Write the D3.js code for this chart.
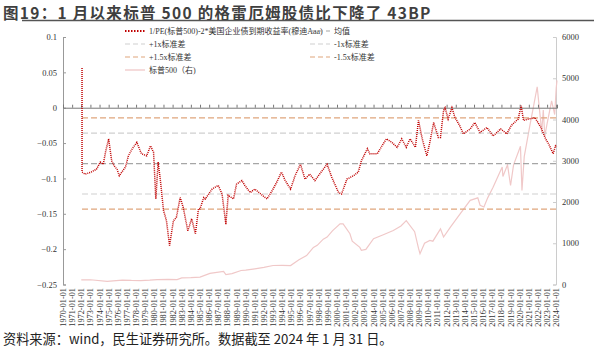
<!DOCTYPE html>
<html>
<head>
<meta charset="utf-8">
<script src="https://cdn.jsdelivr.net/npm/d3@7"></script>
<style>
  body { margin: 0; background: #fff; }
  text { font-family: "Liberation Serif", "Noto Sans CJK SC", serif; }
</style>
</head>
<body>
<script>
// graham ratio: 1/PE - 2*Aaa yield (decimal years)
const gYears = [1972.05,1972.1,1972.4,1973.1,1973.7,1974.05,1974.4,1974.7,1974.96,1975.3,1975.6,1975.9,1976.2,1976.8,1977.15,1977.6,1978.1,1978.6,1979.2,1979.6,1979.9,1980.2,1980.4,1980.7,1981.0,1981.35,1981.7,1982.1,1982.45,1982.8,1983.2,1983.7,1984.1,1984.5,1984.8,1985.0,1985.4,1985.55,1986.3,1987.0,1987.4,1987.8,1988.1,1988.65,1989.0,1989.6,1989.9,1990.5,1991.0,1991.8,1992.3,1992.9,1993.4,1993.9,1994.3,1994.9,1995.4,1996.0,1996.5,1997.0,1997.6,1998.1,1998.5,1998.9,1999.4,2000.15,2000.5,2001.1,2001.8,2002.3,2002.7,2003.3,2003.6,2004.4,2004.9,2005.45,2006.0,2006.55,2007.1,2007.6,2008.0,2008.55,2008.9,2009.3,2009.8,2010.2,2010.6,2011.1,2011.3,2011.65,2011.85,2012.2,2012.55,2012.9,2013.4,2013.85,2014.55,2015.1,2015.65,2016.4,2017.1,2017.9,2018.6,2019.1,2019.8,2020.2,2020.45,2021.0,2021.7,2022.3,2022.8,2023.2,2023.7,2023.9,2024.08];
const gVals = [0.056,-0.091,-0.094,-0.091,-0.087,-0.077,-0.080,-0.062,-0.044,-0.075,-0.082,-0.087,-0.096,-0.084,-0.068,-0.058,-0.049,-0.065,-0.068,-0.054,-0.063,-0.129,-0.077,-0.103,-0.145,-0.160,-0.195,-0.160,-0.155,-0.127,-0.141,-0.174,-0.157,-0.178,-0.143,-0.143,-0.127,-0.129,-0.115,-0.110,-0.122,-0.165,-0.124,-0.129,-0.108,-0.103,-0.110,-0.120,-0.115,-0.124,-0.129,-0.117,-0.105,-0.091,-0.103,-0.115,-0.096,-0.080,-0.101,-0.094,-0.103,-0.094,-0.087,-0.080,-0.098,-0.120,-0.122,-0.101,-0.096,-0.091,-0.075,-0.058,-0.065,-0.065,-0.054,-0.044,-0.049,-0.056,-0.044,-0.056,-0.044,-0.056,-0.018,-0.044,-0.068,-0.049,-0.021,-0.042,-0.042,-0.004,0.0,-0.016,0.0,-0.014,-0.025,-0.037,-0.030,-0.021,-0.035,-0.028,-0.040,-0.030,-0.037,-0.025,-0.016,0.003,-0.018,-0.016,-0.014,-0.028,-0.044,-0.051,-0.065,-0.054,-0.056];

// S&P 500 (right axis)
const spYears = [1972.0,1973.0,1974.8,1975.5,1976.5,1977.5,1978.5,1979.5,1980.3,1981.5,1982.5,1983.0,1984.0,1985.0,1986.1,1987.6,1987.8,1988.5,1989.5,1990.0,1991.0,1992.0,1993.0,1994.0,1994.9,1995.8,1996.7,1997.4,1997.8,1998.5,1998.9,1999.5,2000.3,2000.7,2001.4,2001.7,2002.5,2002.7,2003.2,2004.0,2005.0,2006.2,2007.0,2007.6,2008.5,2008.9,2009.1,2009.6,2010.2,2010.5,2011.3,2011.7,2012.4,2013.5,2014.6,2015.4,2015.7,2016.1,2016.5,2017.1,2018.05,2018.2,2018.7,2018.96,2019.3,2019.9,2020.1,2020.22,2020.5,2021.1,2021.5,2021.95,2022.45,2022.6,2022.78,2023.0,2023.5,2023.8,2024.0,2024.08];
const spVals = [110,115,75,90,105,98,96,105,120,125,120,160,165,180,270,320,240,265,340,350,380,415,460,465,460,600,700,900,950,1100,1150,1300,1470,1470,1230,1050,900,830,850,1110,1200,1310,1420,1550,1280,880,745,1000,1070,1050,1350,1150,1390,1720,2040,2100,1920,1880,2100,2360,2850,2620,2900,2400,2900,3250,3350,2280,3100,3820,4300,4790,3700,4230,3600,3900,4450,4120,4770,4950];

const gMean = -0.079, gStd = 0.043;

const leftTicks = [0.1,0.05,0,-0.05,-0.1,-0.15,-0.2,-0.25];
const rightTicks = [0,1000,2000,3000,4000,5000,6000];
const xYears = d3.range(1970, 2025);

const W = 601, H = 350;
const svg = d3.select("body").append("svg").attr("width", W).attr("height", H);

const yd = y => new Date(Math.floor(y), Math.round((y % 1) * 12), 1);

const x = d3.scaleTime().domain([new Date(1970,0,1), new Date(2024,1,1)]).range([63, 557]);
const yL = d3.scaleLinear().domain([-0.25, 0.1]).range([284.5, 37]);
const yR = d3.scaleLinear().domain([0, 6000]).range([284.5, 37]);

// title
svg.append("text").attr("x", 3).attr("y", 18.5)
  .style("font-family", "'Noto Sans CJK SC', 'Noto Sans', sans-serif")
  .attr("font-size", 15.5).attr("font-weight", "bold").attr("fill", "#3f3f3f")
  .attr("letter-spacing", 1.3)
  .text("图19：1 月以来标普 500 的格雷厄姆股债比下降了 43BP");
svg.append("line").attr("x1", 22).attr("x2", 594).attr("y1", 20.5).attr("y2", 20.5)
  .attr("stroke", "#555").attr("stroke-width", 1.5);

// footer
svg.append("text").attr("x", 3).attr("y", 344)
  .style("font-family", "'Noto Sans CJK SC', sans-serif")
  .attr("font-size", 13.2).attr("fill", "#222")
  .text("资料来源：wind，民生证券研究所。数据截至 2024 年 1 月 31 日。");

// left axis
const gl = svg.append("g").attr("transform", "translate(63,0)")
  .call(d3.axisRight(yL).tickValues(leftTicks).tickSize(3).tickFormat(d => d3.format("")(+d.toFixed(2))));
gl.select(".domain").attr("stroke", "#999");
gl.selectAll(".tick line").attr("stroke", "#999");
gl.selectAll(".tick text").attr("x", -6).attr("text-anchor", "end").attr("font-size", 8.5).attr("fill", "#333")
  .style("font-family", "'Liberation Serif', serif");

// right axis
const gr = svg.append("g").attr("transform", "translate(556,0)")
  .call(d3.axisLeft(yR).tickValues(rightTicks).tickSize(3).tickFormat(d3.format("d")));
gr.select(".domain").attr("stroke", "#ccc");
gr.selectAll(".tick line").attr("stroke", "#ccc");
gr.selectAll(".tick text").attr("x", 6).attr("text-anchor", "start").attr("font-size", 8.5).attr("fill", "#333")
  .style("font-family", "'Liberation Serif', serif");

// S&P 500 line
svg.append("path").datum(spYears.map((d, i) => [d, spVals[i]]))
  .attr("fill", "none").attr("stroke", "#f0c8c8").attr("stroke-width", 1.2)
  .attr("d", d3.line().x(d => x(yd(d[0]))).y(d => yR(d[1])));

// mean / std lines
const bands = [
  {v: gMean, c: "#a6a6a6"},
  {v: gMean + gStd, c: "#d0d0d0"},
  {v: gMean - gStd, c: "#d0d0d0"},
  {v: gMean + 1.5 * gStd, c: "#dfa57c"},
  {v: gMean - 1.5 * gStd, c: "#dfa57c"}
];
svg.selectAll(".band").data(bands).join("line").attr("class", "band")
  .attr("x1", x(yd(gYears[0]))).attr("x2", 556)
  .attr("y1", d => yL(d.v)).attr("y2", d => yL(d.v))
  .attr("stroke", d => d.c).attr("stroke-width", 1.2).attr("stroke-dasharray", "6,3");

// zero axis with year ticks
const gx = svg.append("g").attr("transform", `translate(0,${yL(0)})`)
  .call(d3.axisTop(x).tickValues(xYears.map(y => new Date(y,0,1))).tickSize(3).tickFormat(""));
gx.select(".domain").attr("stroke", "#777");
gx.selectAll(".tick line").attr("stroke", "#777");

// rotated date labels at bottom
svg.selectAll(".xl").data(xYears).join("text").attr("class", "xl")
  .attr("transform", d => `translate(${x(new Date(d,0,1)) + 3},288) rotate(-90)`)
  .attr("text-anchor", "end").attr("font-size", 8.3).attr("fill", "#333")
  .style("font-family", "'Liberation Serif', serif")
  .text(d => d + "-01-01");

// graham series
svg.append("path").datum(gYears.map((d, i) => [d, gVals[i]]))
  .attr("fill", "none").attr("stroke", "#c00000").attr("stroke-width", 1.5)
  .attr("stroke-dasharray", "1,1")
  .attr("d", d3.line().x(d => x(yd(d[0]))).y(d => yL(d[1])));

// legend
const leg = [
  {x: 125, y: 31, c: "#c00000", dash: "1.5,1.5", w: 1.8, t: "1/PE(标普500)-2*美国企业债到期收益率(穆迪Aaa)"},
  {x: 310, y: 31, c: "#a6a6a6", dash: "5,3", w: 1.2, t: "均值"},
  {x: 125, y: 44, c: "#d0d0d0", dash: "5,3", w: 1.2, t: "+1x标准差"},
  {x: 310, y: 44, c: "#d0d0d0", dash: "5,3", w: 1.2, t: "-1x标准差"},
  {x: 125, y: 57, c: "#dfa57c", dash: "5,3", w: 1.2, t: "+1.5x标准差"},
  {x: 310, y: 57, c: "#dfa57c", dash: "5,3", w: 1.2, t: "-1.5x标准差"},
  {x: 125, y: 70, c: "#f0c8c8", dash: null, w: 1.3, t: "标普500（右)"}
];
const lg = svg.selectAll(".leg").data(leg).join("g").attr("class", "leg")
  .attr("transform", d => `translate(${d.x},${d.y})`);
lg.append("line").attr("x1", 0).attr("x2", 20).attr("stroke", d => d.c)
  .attr("stroke-width", d => d.w).attr("stroke-dasharray", d => d.dash);
lg.append("text").attr("x", 24).attr("y", 3).attr("font-size", 8).attr("fill", "#333")
  .style("font-family", "'Liberation Serif', 'Noto Sans CJK SC', serif")
  .text(d => d.t);
</script>
</body>
</html>
